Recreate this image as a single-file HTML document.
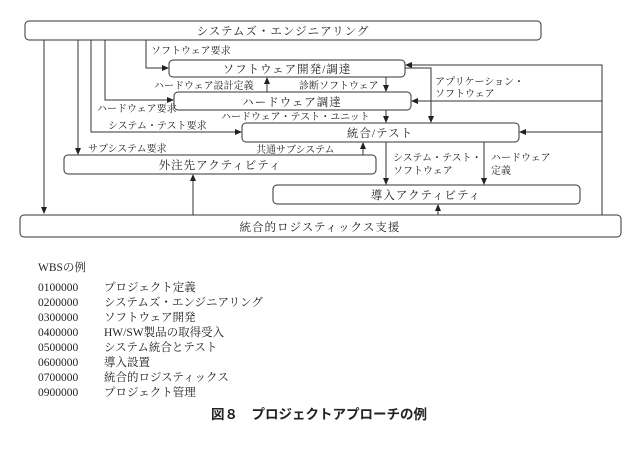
<!DOCTYPE html>
<html><head><meta charset="utf-8"><style>
body{margin:0;background:#fff;}
svg text{font-family:"Liberation Serif","Noto Serif CJK SC","Noto Serif CJK JP",serif;fill:#222;}
.b{font-size:11.5px;letter-spacing:1px}
.l{font-size:10px}
.w{font-size:11.5px}
</style></head><body>
<svg width="640" height="444" viewBox="0 0 640 444" xmlns="http://www.w3.org/2000/svg">
<defs><marker id="a" markerWidth="7" markerHeight="7" refX="6" refY="3.5" orient="auto" markerUnits="userSpaceOnUse"><path d="M0,0.5 L7,3.5 L0,6.5 Z" fill="#222"/></marker></defs>
<g fill="none" stroke="#333" stroke-width="1">
<rect x="25" y="21" width="516" height="19" rx="4"/>
<rect x="169" y="60" width="236" height="17" rx="4"/>
<rect x="174" y="92" width="237" height="18" rx="4"/>
<rect x="242" y="123" width="277" height="19" rx="4"/>
<rect x="64" y="155" width="312" height="19" rx="4"/>
<rect x="273" y="185" width="307" height="19" rx="4"/>
<rect x="20" y="215" width="601" height="22" rx="4"/>
<path d="M44 40 V213" marker-end="url(#a)"/>
<path d="M78 40 V154" marker-end="url(#a)"/>
<path d="M91 40 V132 H241" marker-end="url(#a)"/>
<path d="M105 40 V100 H173" marker-end="url(#a)"/>
<path d="M146 40 V68 H168" marker-end="url(#a)"/>
<path d="M267 92 V78" marker-end="url(#a)"/>
<path d="M386 77 V91" marker-end="url(#a)"/>
<path d="M386 110 V122" marker-end="url(#a)"/>
<path d="M405 68 H431 V122" marker-end="url(#a)"/>
<path d="M602 215 V65 H406" marker-end="url(#a)"/>
<path d="M602 101 H412" marker-end="url(#a)"/>
<path d="M602 132 H520" marker-end="url(#a)"/>
<path d="M363 155 V143" marker-end="url(#a)"/>
<path d="M386 142 V184" marker-end="url(#a)"/>
<path d="M484 142 V184" marker-end="url(#a)"/>
<path d="M193 215 V175" marker-end="url(#a)"/>
<path d="M438 215 V205" marker-end="url(#a)"/>
</g>
<text class="b" x="283" y="35" text-anchor="middle">システムズ・エンジニアリング</text>
<text class="b" x="287" y="73" text-anchor="middle">ソフトウェア開発/調達</text>
<text class="b" x="292" y="106" text-anchor="middle">ハードウェア調達</text>
<text class="b" x="380" y="137" text-anchor="middle">統合/テスト</text>
<text class="b" x="220" y="169" text-anchor="middle">外注先アクティビティ</text>
<text class="b" x="426" y="199" text-anchor="middle">導入アクティビティ</text>
<text class="b" x="320" y="231" text-anchor="middle">統合的ロジスティックス支援</text>
<text class="l" x="151" y="54">ソフトウェア要求</text>
<text class="l" x="154" y="89">ハードウェア設計定義</text>
<text class="l" x="299" y="89">診断ソフトウェア</text>
<text class="l" x="435" y="85">アプリケーション・</text>
<text class="l" x="435" y="97">ソフトウェア</text>
<text class="l" x="97" y="112">ハードウェア要求</text>
<text class="l" x="221" y="120">ハードウェア・テスト・ユニット</text>
<text class="l" x="108" y="129">システム・テスト要求</text>
<text class="l" x="88" y="152">サブシステム要求</text>
<text class="l" x="256" y="153">共通サブシステム</text>
<text class="l" x="393" y="161">システム・テスト・</text>
<text class="l" x="393" y="174">ソフトウェア</text>
<text class="l" x="491" y="161">ハードウェア</text>
<text class="l" x="491" y="174">定義</text>
<text class="w" x="38" y="271">WBSの例</text>
<g class="w">
<text x="38" y="291">0100000</text><text x="104" y="291">プロジェクト定義</text>
<text x="38" y="306">0200000</text><text x="104" y="306">システムズ・エンジニアリング</text>
<text x="38" y="321">0300000</text><text x="104" y="321">ソフトウェア開発</text>
<text x="38" y="336">0400000</text><text x="104" y="336">HW/SW製品の取得受入</text>
<text x="38" y="351">0500000</text><text x="104" y="351">システム統合とテスト</text>
<text x="38" y="366">0600000</text><text x="104" y="366">導入設置</text>
<text x="38" y="381">0700000</text><text x="104" y="381">統合的ロジスティックス</text>
<text x="38" y="396">0900000</text><text x="104" y="396">プロジェクト管理</text>
</g>
<text x="211" y="419" style="font-size:13.5px;font-weight:bold;font-family:'Liberation Sans','Noto Sans CJK JP',sans-serif">図８　プロジェクトアプローチの例</text>
</svg>
</body></html>
